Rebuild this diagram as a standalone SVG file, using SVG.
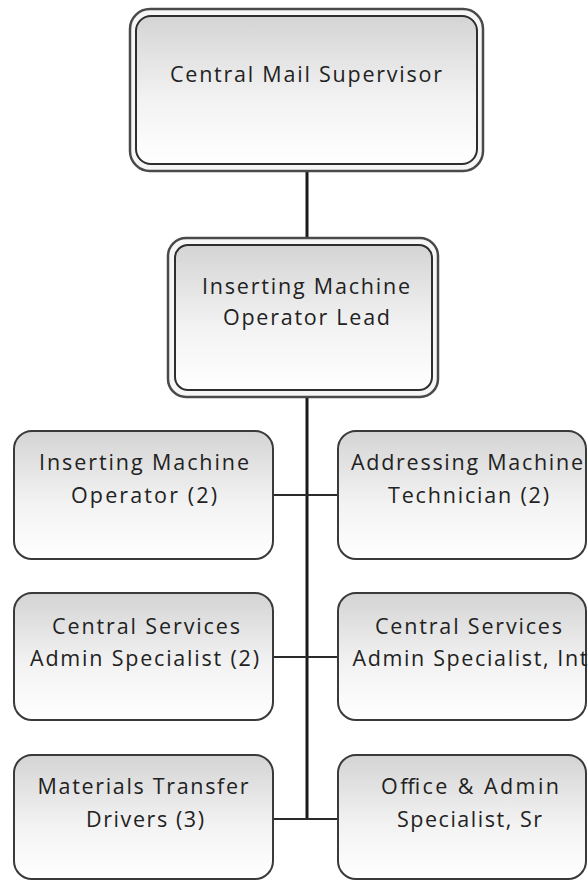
<svg xmlns="http://www.w3.org/2000/svg" width="588" height="881" viewBox="0 0 588 881">
  <defs>
    <linearGradient id="boxFill" x1="0" y1="0" x2="0" y2="1">
      <stop offset="0" stop-color="#d4d4d4"/>
      <stop offset="0.55" stop-color="#f2f2f2"/>
      <stop offset="1" stop-color="#ffffff"/>
    </linearGradient>
  </defs>
  <style>
    .outer { fill: #f6f6f6; stroke: #4a4a4a; stroke-width: 2.5; }
    .inner { fill: url(#boxFill); stroke: #2e2e2e; stroke-width: 2; }
    .box { fill: url(#boxFill); stroke: #3a3a3a; stroke-width: 2; }
    .label { font-family: "Open Sans", "Liberation Sans", sans-serif; font-size: 21.5px; fill: #222222; text-anchor: middle; }
    .trunk { stroke: #1a1a1a; stroke-width: 3; fill: none; }
    .branch { stroke: #2a2a2a; stroke-width: 2; fill: none; }
  </style>
  <rect width="588" height="881" fill="#ffffff"/>

  <!-- reporting lines -->
  <g id="connectors">
    <line class="trunk" x1="307" y1="170" x2="307" y2="239"/>
    <line class="trunk" x1="307" y1="396" x2="307" y2="820"/>
    <line class="branch" x1="273" y1="495" x2="338" y2="495"/>
    <line class="branch" x1="273" y1="657" x2="338" y2="657"/>
    <line class="branch" x1="273" y1="819" x2="338" y2="819"/>
  </g>

  <g id="central-mail-supervisor">
    <rect class="outer" x="130" y="9" width="353" height="162" rx="20"/>
    <rect class="inner" x="136" y="16" width="341" height="148" rx="15"/>
    <text class="label" x="306" y="82" textLength="272" lengthAdjust="spacing">Central Mail Supervisor</text>
  </g>

  <g id="operator-lead">
    <rect class="outer" x="168" y="238" width="270" height="159" rx="18"/>
    <rect class="inner" x="175" y="245" width="257" height="145" rx="13"/>
    <text class="label" x="306" y="294" textLength="208" lengthAdjust="spacing">Inserting Machine</text>
    <text class="label" x="306.5" y="325" textLength="167" lengthAdjust="spacing">Operator Lead</text>
  </g>

  <g id="inserting-operator">
    <rect class="box" x="14" y="431" width="259" height="128" rx="18"/>
    <text class="label" x="144" y="470" textLength="210" lengthAdjust="spacing">Inserting Machine</text>
    <text class="label" x="144" y="503" textLength="146" lengthAdjust="spacing">Operator (2)</text>
  </g>

  <g id="addressing-technician">
    <rect class="box" x="338" y="431" width="248" height="128" rx="18"/>
    <text class="label" x="467" y="470" textLength="232" lengthAdjust="spacing">Addressing Machine</text>
    <text class="label" x="468.5" y="503" textLength="161" lengthAdjust="spacing">Technician (2)</text>
  </g>

  <g id="central-services-specialist">
    <rect class="box" x="14" y="593" width="259" height="127" rx="18"/>
    <text class="label" x="146" y="634" textLength="188" lengthAdjust="spacing">Central Services</text>
    <text class="label" x="144.5" y="666" textLength="229" lengthAdjust="spacing">Admin Specialist (2)</text>
  </g>

  <g id="central-services-specialist-int">
    <rect class="box" x="338" y="593" width="248" height="127" rx="18"/>
    <text class="label" x="468.5" y="634" textLength="187" lengthAdjust="spacing">Central Services</text>
    <text class="label" x="470" y="666" textLength="235" lengthAdjust="spacing">Admin Specialist, Int</text>
  </g>

  <g id="materials-transfer-drivers">
    <rect class="box" x="14" y="755" width="259" height="124" rx="18"/>
    <text class="label" x="143" y="794" textLength="211" lengthAdjust="spacing">Materials Transfer</text>
    <text class="label" x="145" y="827" textLength="118" lengthAdjust="spacing">Drivers (3)</text>
  </g>

  <g id="office-admin-specialist">
    <rect class="box" x="338" y="755" width="248" height="124" rx="18"/>
    <text class="label" x="470" y="794" textLength="178" lengthAdjust="spacing">Office &amp; Admin</text>
    <text class="label" x="469.5" y="827" textLength="145" lengthAdjust="spacing">Specialist, Sr</text>
  </g>
</svg>
